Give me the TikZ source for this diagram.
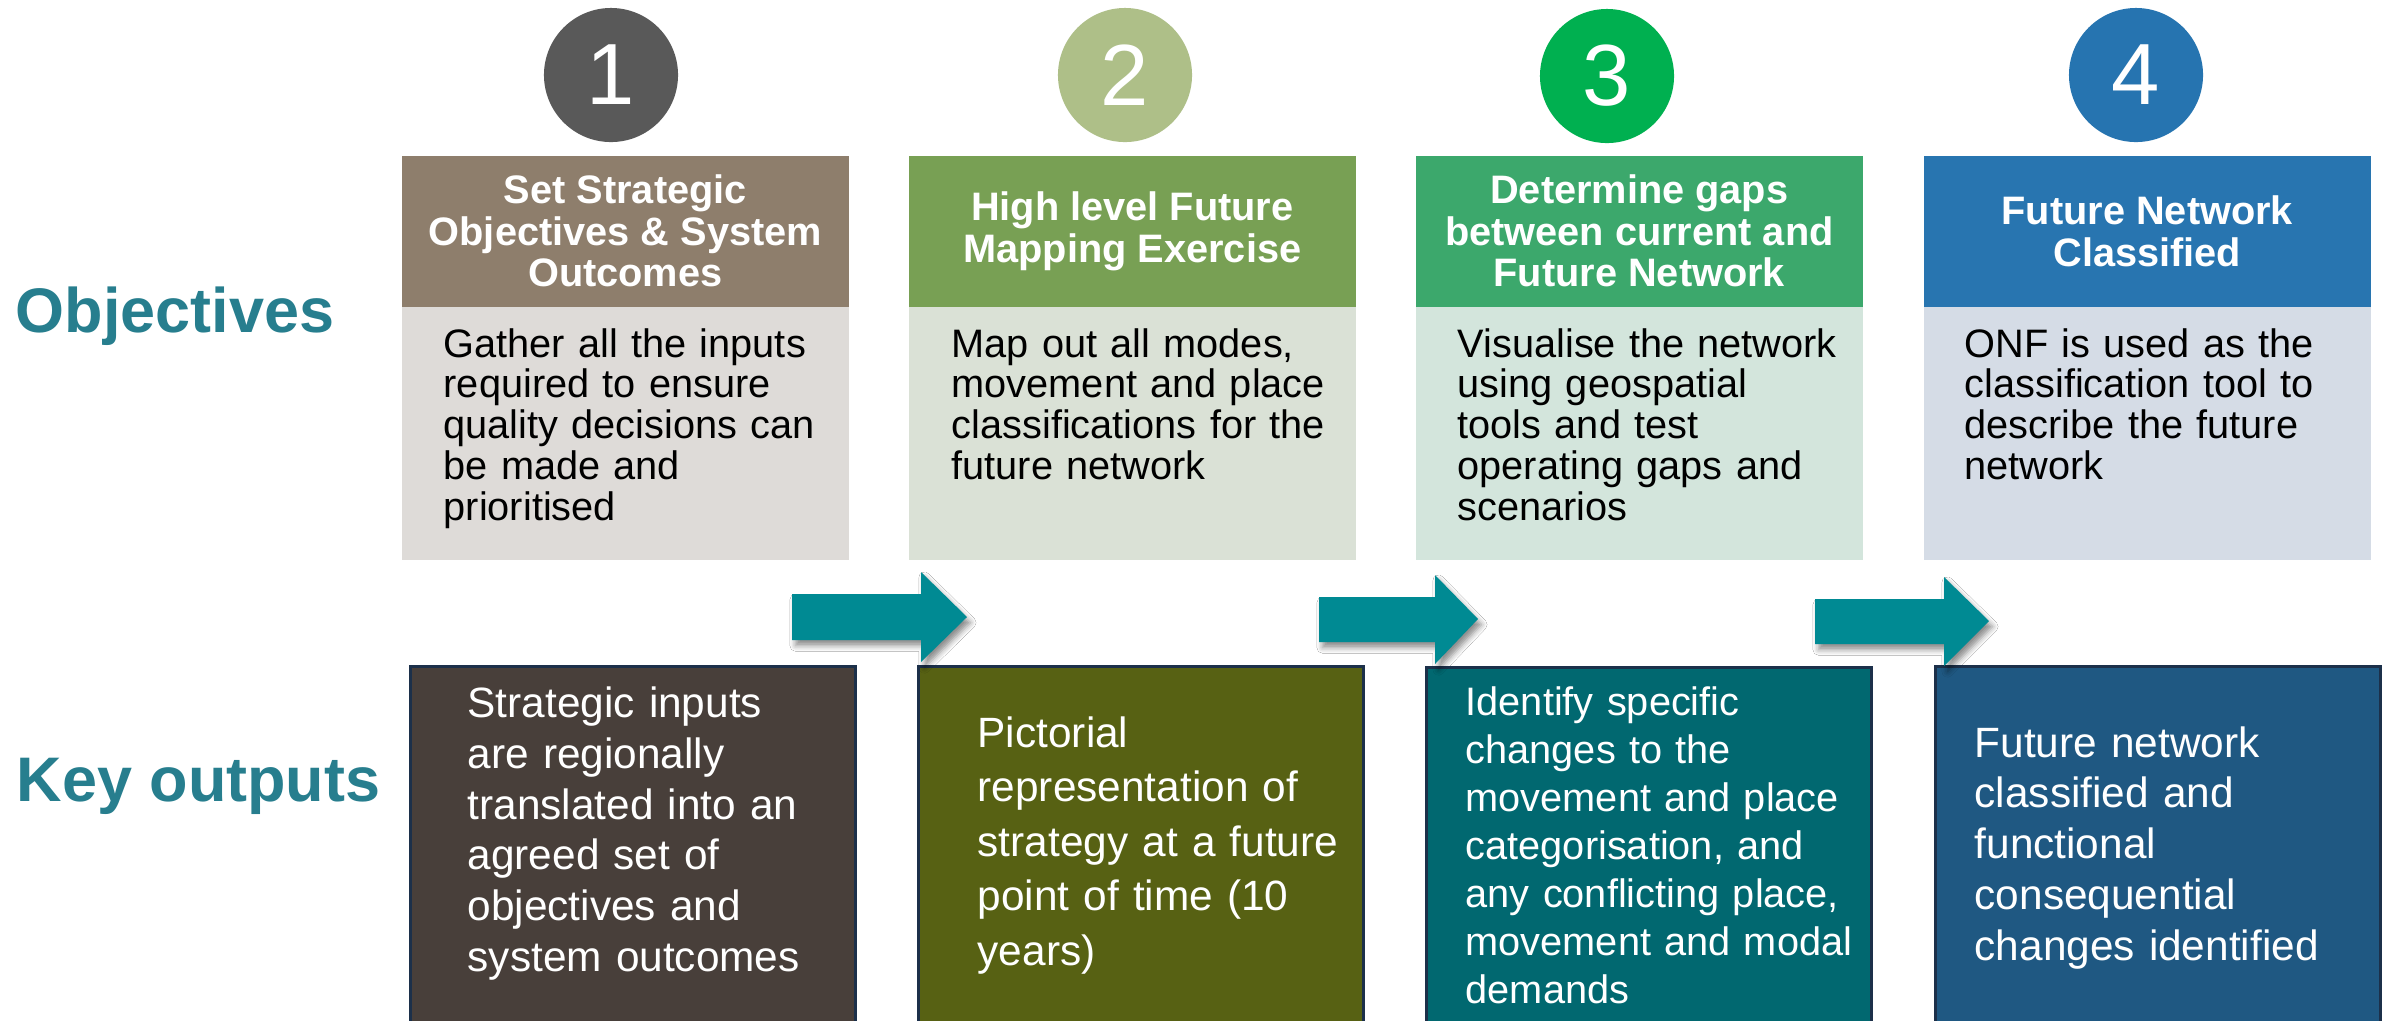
\documentclass[tikz,border=0pt]{standalone}
\usepackage{fontspec}
\setmainfont{Liberation Sans}
\usetikzlibrary{shadows.blur}
\definecolor{labelc}{RGB}{39,126,142}
\definecolor{c1}{RGB}{89,89,89}
\definecolor{c2}{RGB}{174,191,136}
\definecolor{c3}{RGB}{0,176,80}
\definecolor{c4}{RGB}{38,116,176}
\definecolor{h1}{RGB}{142,126,108}
\definecolor{h2}{RGB}{120,160,84}
\definecolor{h3}{RGB}{60,168,108}
\definecolor{h4}{RGB}{40,117,176}
\definecolor{b1}{RGB}{222,219,216}
\definecolor{b2}{RGB}{218,225,214}
\definecolor{b3}{RGB}{211,229,220}
\definecolor{b4}{RGB}{213,220,230}
\definecolor{o1}{RGB}{72,63,58}
\definecolor{o2}{RGB}{87,97,19}
\definecolor{o3}{RGB}{1,104,112}
\definecolor{o4}{RGB}{31,88,130}
\definecolor{outline}{RGB}{28,48,74}
\definecolor{arrowc}{RGB}{0,138,147}
\begin{document}
\begin{tikzpicture}[x=0.01cm,y=-0.01cm,
  numcirc/.style={circle, minimum size=1.34cm, inner sep=0pt, text=white,
    font=\fontsize{24.7}{26}\selectfont},
  hdr/.style={rectangle, anchor=north west, inner sep=0pt, minimum width=4.47cm,
    minimum height=1.51cm, text=white, align=center,
    font=\bfseries\fontsize{11.3}{11.8}\selectfont},
  bodybox/.style={rectangle, anchor=north west, inner sep=0pt, minimum width=4.47cm,
    minimum height=2.53cm},
  bodytext/.style={anchor=base west, inner sep=0pt, text width=4.3cm, align=left,
    text=black, font=\fontsize{11.3}{11.6}\selectfont},
  outbox/.style={rectangle, anchor=north west, inner sep=0pt, minimum width=4.45cm,
    minimum height=3.8cm, draw=outline, line width=0.8pt},
  outtext/.style={anchor=base west, inner sep=0pt, text width=4.3cm, align=left,
    text=white},
  lbl/.style={anchor=base west, inner sep=0pt, text=labelc,
    font=\bfseries\fontsize{17.9}{20}\selectfont},
  blockarrow/.style={fill=arrowc, blur shadow={shadow xshift=1pt, shadow yshift=-1.6pt,
    shadow blur radius=1.6pt, shadow opacity=45}}
]
\useasboundingbox (0,0) rectangle (2387,1020);
\fill[white] (0,0) rectangle (2387,1020);

% side labels
\node[lbl] (lobj) at (15,332) {Objectives};
\node[lbl] (lkey) at (16,801) {Key outputs};

% number circles
\node[numcirc, fill=c1] (n1) at (611,75) {1};
\node[numcirc, fill=c2] (n2) at (1125,75) {2};
\node[numcirc, fill=c3] (n3) at (1607,76) {3};
\node[numcirc, fill=c4] (n4) at (2136,75) {4};

% header boxes
\node[hdr, fill=h1] (hd1) at (401,155) {Set Strategic\\Objectives \& System\\Outcomes};
\node[hdr, fill=h2] (hd2) at (908,155) {High level Future\\Mapping Exercise};
\node[hdr, fill=h3] (hd3) at (1415,155) {Determine gaps\\between current and\\Future Network};
\node[hdr, fill=h4] (hd4) at (1923,155) {Future Network\\Classified};

% body boxes
\node[bodybox, fill=b1] (bd1) at (401,306) {};
\node[bodybox, fill=b2] (bd2) at (908,306) {};
\node[bodybox, fill=b3] (bd3) at (1415,306) {};
\node[bodybox, fill=b4] (bd4) at (1923,306) {};

\node[bodytext] (bt1) at (443,357) {Gather all the inputs\\required to ensure\\quality decisions can\\be made and\\prioritised};
\node[bodytext] (bt2) at (951,357) {Map out all modes,\\movement and place\\classifications for the\\future network};
\node[bodytext] (bt3) at (1457,357) {Visualise the network\\using geospatial\\tools and test\\operating gaps and\\scenarios};
\node[bodytext] (bt4) at (1964,357) {ONF is used as the\\classification tool to\\describe the future\\network};

% output boxes
\node[outbox, fill=o1] (ob1) at (409,665) {};
\node[outbox, fill=o2] (ob2) at (917,665) {};
\node[outbox, fill=o3] (ob3) at (1425,666) {};
\node[outbox, fill=o4] (ob4) at (1934,665) {};

\node[outtext, font=\fontsize{12.05}{14.5}\selectfont] (ot1) at (467,717)
  {Strategic inputs\\are regionally\\translated into an\\agreed set of\\objectives and\\system outcomes};
\node[outtext, font=\fontsize{12.05}{15.5}\selectfont] (ot2) at (977,747)
  {Pictorial\\representation of\\strategy at a future\\point of time (10\\years)};
\node[outtext, font=\fontsize{11.3}{13.66}\selectfont] (ot3) at (1465,715)
  {Identify specific\\changes to the\\movement and place\\categorisation, and\\any conflicting place,\\movement and modal\\demands};
\node[outtext, font=\fontsize{12.05}{14.45}\selectfont] (ot4) at (1974,757)
  {Future network\\classified and\\functional\\consequential\\changes identified};

% block arrows
\fill[blockarrow] (792,594) -- (921,594) -- (921,572) -- (967,617) -- (921,662)
  -- (921,640) -- (792,640) -- cycle;
\fill[blockarrow] (1319,597) -- (1435,597) -- (1435,575) -- (1478,619) -- (1435,664)
  -- (1435,642) -- (1319,642) -- cycle;
\fill[blockarrow] (1815,599) -- (1944,599) -- (1944,577) -- (1989,621) -- (1944,666)
  -- (1944,644) -- (1815,644) -- cycle;
\end{tikzpicture}
\end{document}
